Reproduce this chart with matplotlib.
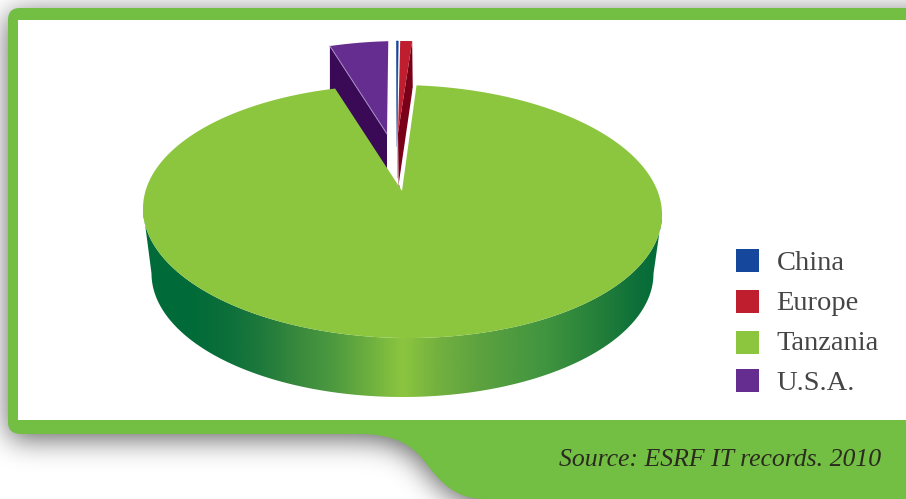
import numpy as np
import matplotlib
matplotlib.use('Agg')
import matplotlib.pyplot as plt
from matplotlib.colors import LinearSegmentedColormap
from matplotlib.patches import PathPatch, Polygon, Rectangle
from matplotlib.path import Path

# share of records per country, in percent
countries = ['China', 'Europe', 'Tanzania', 'U.S.A.']
shares = [0.11, 0.74, 95.49, 3.66]

top_colors = ['#15479c', '#be1e2d', '#8cc63f', '#662d91']
side_colors = ['#6f8fc8', '#7a0019', '#006b38', '#3b0a57']

DEG_PER_UNIT = 3.58
FRAME_GREEN = '#72bf44'

# pie ellipse, in pixels
CX, CY, RX, RY = 402.5, 211.5, 259.5, 126.5
TILT = 3
DEPTH = 59
APEX = (402, 191)
LIFT = 44

# slices are laid clockwise from the right cut edge of the big slice
draw_order = ['Tanzania', 'U.S.A.', 'China', 'Europe']
gap_before = {'Tanzania': 0.0, 'U.S.A.': -1.2, 'China': 1.8, 'Europe': 0.44}
lifted_apex = {'U.S.A.': (387, 134), 'China': (397, 147), 'Europe': (398, 133)}


def rim(t0, t1, cy=CY, rx=RX, ry=RY, cx=CX, tilt=TILT, n=240):
    t = np.radians(np.linspace(t0, t1, n))
    return np.column_stack([cx + rx * np.sin(t), cy - ry * np.cos(t) + tilt * np.sin(t)])


def blur(mask, sigma):
    r = int(3 * sigma)
    kernel = np.exp(-0.5 * (np.arange(-r, r + 1) / sigma) ** 2)
    kernel /= kernel.sum()
    mask = np.apply_along_axis(np.convolve, 0, mask, kernel, mode='same')
    return np.apply_along_axis(np.convolve, 1, mask, kernel, mode='same')


fig = plt.figure(figsize=(9.06, 4.99), dpi=100, facecolor='white')
ax = fig.add_axes([0, 0, 1, 1])
ax.axis('off')

# green frame with the tab in the lower right
frame = Path(
    [(20, 8), (12, 8), (8, 12), (8, 20), (8, 422), (8, 430), (12, 434), (22, 434),
     (358, 434), (395, 434), (412, 445), (425, 462), (440, 482), (455, 499), (485, 499),
     (1000, 499), (1000, 8), (20, 8)],
    [Path.MOVETO, Path.CURVE4, Path.CURVE4, Path.CURVE4, Path.LINETO, Path.CURVE4, Path.CURVE4, Path.CURVE4,
     Path.LINETO, Path.CURVE4, Path.CURVE4, Path.CURVE4, Path.CURVE4, Path.CURVE4, Path.CURVE4,
     Path.LINETO, Path.LINETO, Path.CLOSEPOLY])

# soft drop shadow under the frame, blurred from the same outline
PAD = 50
gx, gy = np.meshgrid(np.arange(-PAD, 906 + PAD) + 0.5, np.arange(-PAD, 499 + PAD) + 0.5)
inside = frame.contains_points(np.column_stack([gx.ravel(), gy.ravel() - 5]))
inside = inside.reshape(gx.shape).astype(float)
# the tab runs off the bottom of the figure, keep it solid there
inside[gy > 504] = np.maximum(inside[gy > 504], (gx[gy > 504] > 485).astype(float))
soft = blur(inside, 14)[PAD:-PAD, PAD:-PAD]
rgba = np.zeros(soft.shape + (4,))
rgba[..., 3] = 0.62 * soft
ax.imshow(rgba, extent=(0, 906, 499, 0), aspect='auto', zorder=1, interpolation='bilinear')

ax.add_patch(PathPatch(frame, facecolor=FRAME_GREEN, edgecolor='none', zorder=2))
ax.add_patch(Rectangle((18, 20), 888, 400, facecolor='white', edgecolor='none', zorder=3))

# work out slice angles from the shares
angles = {}
pos = 3.1
for name in draw_order:
    pos += gap_before[name]
    span = shares[countries.index(name)] * DEG_PER_UNIT
    angles[name] = (pos, pos + span)
    pos += span

# lifted slices, sitting behind the big one
for name in ['U.S.A.', 'China', 'Europe']:
    i = countries.index(name)
    t0, t1 = angles[name]
    # the angles run past 360 here, the rim wraps back round to the top
    arc = rim(t0, t1, cy=CY - LIFT, tilt=0)
    apex = np.array(lifted_apex[name], dtype=float)
    if name == 'U.S.A.':
        cut = np.array([arc[0], apex, apex + (0, DEPTH), arc[0] + (0, DEPTH)])
        ax.add_patch(Polygon(cut, facecolor=side_colors[i], edgecolor='none', zorder=4))
        ax.plot([arc[0][0], apex[0]], [arc[0][1], apex[1]], color='#a98cc4', lw=0.7, zorder=6)
    elif name == 'Europe':
        cut = np.array([arc[-1], apex, apex + (0.7, DEPTH), arc[-1] + (0.7, DEPTH)])
        ax.add_patch(Polygon(cut, facecolor=side_colors[i], edgecolor='none', zorder=4))
    else:
        ax.plot([apex[0], apex[0]], [apex[1], apex[1] + 30], color=side_colors[i], lw=0.7, alpha=0.6, zorder=4)
    edge = top_colors[i] if name == 'China' else 'none'
    ax.add_patch(Polygon(np.vstack([arc, apex]), facecolor=top_colors[i], edgecolor=edge, lw=0.4, zorder=5))

# wall of the big slice, a horizontal shade clipped to the lower rim
t_idx = countries.index('Tanzania')
upper = rim(90, 270)
lower = rim(270, 90, cy=CY + 62, rx=251, ry=123.5, tilt=0)
wall = Polygon(np.vstack([upper, lower]), closed=True, transform=ax.transData, facecolor='none', edgecolor='none')
ax.add_patch(wall)
shade = LinearSegmentedColormap.from_list('wall', [
    (0.00, '#006b38'), (0.09, '#006b38'), (0.17, '#0e703b'), (0.23, '#1f7a3b'),
    (0.30, '#3a8a3d'), (0.36, '#4a983f'), (0.44, '#6fb13f'), (0.50, '#8cc63f'),
    (0.57, '#72b03f'), (0.65, '#5da23f'), (0.78, '#3f943f'), (0.875, '#258039'),
    (0.96, '#0c6f3a'), (1.00, '#006b38')])
img = ax.imshow(np.linspace(0, 1, 512)[None, :], cmap=shade, extent=(143, 662, 400, 205),
                aspect='auto', zorder=7)
img.set_clip_path(wall)
ax.set_xlim(0, 906)
ax.set_ylim(499, 0)

# top face of the big slice, with the white cut face down its right edge
t0, t1 = angles['Tanzania']
arc = rim(t0, t1, n=720)
ax.add_patch(Polygon([APEX, arc[0], (412.7, 88), (398.7, 184)], facecolor='white', edgecolor='none', zorder=7))
ax.add_patch(Polygon(np.vstack([APEX, arc]), facecolor=top_colors[t_idx], edgecolor='none', zorder=8))

# legend
legend_y = [249, 290, 331, 369]
legend_base = [270.5, 310.5, 350.5, 390.5]
for name, y, base, color in zip(countries, legend_y, legend_base, top_colors):
    ax.add_patch(Rectangle((736, y), 23, 23, facecolor=color, edgecolor='none', zorder=9))
    ax.text(776.5, base, name, family='Liberation Serif', fontsize=20.5, color='#454545',
            va='baseline', ha='left', zorder=9)

ax.text(881, 466, 'Source: ESRF IT records. 2010', family='Liberation Serif', style='italic',
        fontsize=18.5, color='#2a2a1e', ha='right', va='baseline', zorder=9)

fig.savefig('out.png', dpi=100)
